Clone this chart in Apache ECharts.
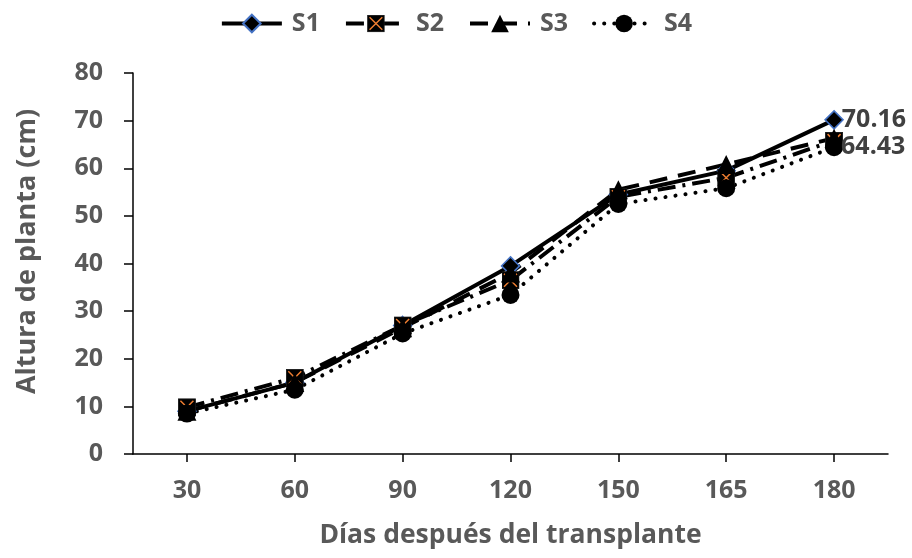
<!DOCTYPE html>
<html>
<head>
<meta charset="utf-8">
<script src="https://cdn.jsdelivr.net/npm/echarts@6/dist/echarts.min.js"></script>
<style>html,body{margin:0;padding:0;background:#fff}#c{width:912px;height:558px}</style>
</head>
<body>
<div id="c"></div>
<script>
const categories = ['30', '60', '90', '120', '150', '165', '180'];
const s1 = [9.0, 15.0, 27.0, 39.5, 54.5, 59.5, 70.16];
const s2 = [9.8, 16.0, 27.0, 36.5, 54.0, 58.0, 65.8];
const s3 = [9.0, 15.0, 26.5, 38.0, 55.5, 60.8, 66.3];
const s4 = [8.5, 13.5, 25.3, 33.4, 52.5, 55.8, 64.43];
const seriesNames = ['S1', 'S2', 'S3', 'S4'];
const yTicks = { min: 0, max: 80, interval: 10 };

const FONT = '"Open Sans", "DejaVu Sans", sans-serif';
const GREY = '#595959';
const last = categories.length - 1;

const squareX = 'image://data:image/svg+xml;charset=utf-8,' + encodeURIComponent(
  "<svg xmlns='http://www.w3.org/2000/svg' width='36' height='36' viewBox='0 0 36 36'>" +
  "<rect x='1' y='1' width='34' height='34' fill='#000' stroke='#1a1a1a' stroke-width='2'/>" +
  "<path d='M5 5 L31 31 M31 5 L5 31' stroke='#ED7D31' stroke-width='3'/></svg>");

function endLabel(show) {
  return {
    show: show,
    position: 'right',
    distance: -2,
    color: '#404040',
    fontFamily: FONT,
    fontWeight: 'bold',
    fontSize: 25,
    formatter: p => p.dataIndex === last ? String(p.value) : ''
  };
}

const chart = echarts.init(document.getElementById('c'), null, { renderer: 'canvas' });
chart.setOption({
  animation: false,
  backgroundColor: '#fff',
  legend: {
    top: 6,
    left: 'center',
    itemWidth: 60,
    itemHeight: 22,
    itemGap: 24,
    data: seriesNames,
    lineStyle: { width: 4 },
    textStyle: { color: GREY, fontFamily: FONT, fontWeight: 'bold', fontSize: 25, padding: [0, 0, 0, 5] }
  },
  grid: { left: 133, right: 24, top: 73, bottom: 104 },
  xAxis: {
    type: 'category',
    data: categories,
    boundaryGap: true,
    name: 'Días después del transplante',
    nameLocation: 'middle',
    nameGap: 68,
    nameTextStyle: { color: GREY, fontFamily: FONT, fontWeight: 'bold', fontSize: 26.5 },
    axisLine: { lineStyle: { color: '#000', width: 1.5 } },
    axisTick: { show: true, alignWithLabel: true, length: 8, lineStyle: { color: '#000', width: 1.5 } },
    axisLabel: { color: GREY, fontFamily: FONT, fontWeight: 'bold', fontSize: 25, margin: 24 },
    splitLine: { show: false }
  },
  yAxis: {
    type: 'value',
    min: yTicks.min,
    max: yTicks.max,
    interval: yTicks.interval,
    name: 'Altura de planta (cm)',
    nameLocation: 'middle',
    nameGap: 92,
    nameTextStyle: { color: GREY, fontFamily: FONT, fontWeight: 'bold', fontSize: 27, padding: [0, 0, 0, 24] },
    axisLine: { show: true, lineStyle: { color: '#000', width: 1.5 } },
    axisTick: { show: true, length: 9, lineStyle: { color: '#000', width: 1.5 } },
    axisLabel: { color: GREY, fontFamily: FONT, fontWeight: 'bold', fontSize: 25, margin: 30 },
    splitLine: { show: false }
  },
  series: [
    {
      name: 'S1', type: 'line', data: s1,
      symbol: 'diamond', symbolSize: 18, showAllSymbol: true,
      lineStyle: { color: '#000', width: 4, type: 'solid' },
      itemStyle: { color: '#000', borderColor: '#4472C4', borderWidth: 1.5 },
      label: endLabel(true)
    },
    {
      name: 'S2', type: 'line', data: s2,
      symbol: squareX, symbolSize: 18,
      lineStyle: { color: '#000', width: 4, type: [18, 7, 3, 7] },
      itemStyle: { color: '#000' }
    },
    {
      name: 'S3', type: 'line', data: s3,
      symbol: 'triangle', symbolSize: 19,
      lineStyle: { color: '#000', width: 4, type: [18, 11] },
      itemStyle: { color: '#000' }
    },
    {
      name: 'S4', type: 'line', data: s4,
      symbol: 'circle', symbolSize: 18,
      lineStyle: { color: '#000', width: 4, type: [0.1, 10], cap: 'round' },
      itemStyle: { color: '#000' },
      label: endLabel(true)
    }
  ]
});
</script>
</body>
</html>
